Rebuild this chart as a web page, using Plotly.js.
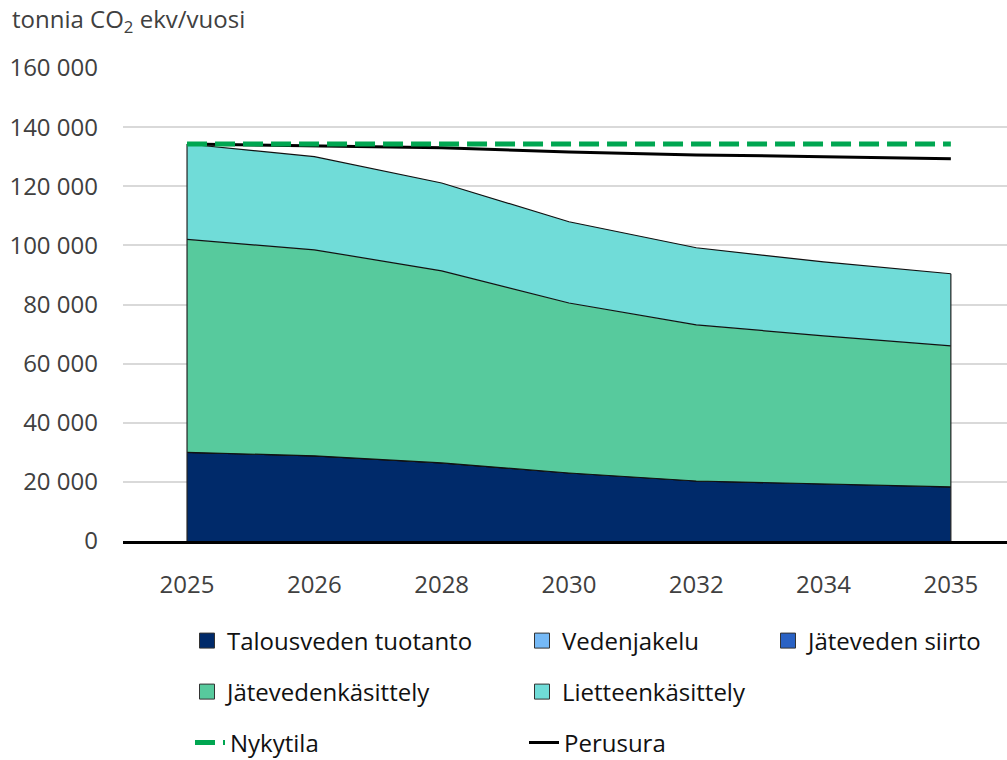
<!DOCTYPE html>
<html>
<head>
<meta charset="utf-8">
<script src="https://cdn.plot.ly/plotly-3.0.1.min.js"></script>
<style>html,body{margin:0;padding:0;background:#fff;}#chart{width:1007px;height:760px;}</style>
</head>
<body>
<div id="chart"></div>
<script>
const years = ["2025", "2026", "2028", "2030", "2032", "2034", "2035"];
const talousveden = [30000, 28800, 26400, 23000, 20300, 19300, 18300];
const vedenjakelu = [0, 0, 0, 0, 0, 0, 0];
const jatevedenSiirto = [0, 0, 0, 0, 0, 0, 0];
const jatevedenkasittely = [72000, 69700, 65000, 57500, 52800, 50100, 47700];
const lietteenkasittely = [32300, 31500, 29700, 27500, 26100, 25000, 24400];
const nykytila = [134300, 134300, 134300, 134300, 134300, 134300, 134300];
const perusura = [134300, 133700, 133000, 131600, 130600, 130000, 129300];
const yTicks = [0, 20000, 40000, 60000, 80000, 100000, 120000, 140000, 160000];

const names = ["Talousveden tuotanto", "Vedenjakelu", "Jäteveden siirto", "Jätevedenkäsittely", "Lietteenkäsittely"];
const series = [talousveden, vedenjakelu, jatevedenSiirto, jatevedenkasittely, lietteenkasittely];
const colors = ["#002A6A", "#75B9F6", "#2A62C4", "#57CA9D", "#70DCD8"];
const legendOf = ["legend", "legend", "legend3", "legend2", "legend2"];

const traces = [];
series.forEach((s, i) => {
  traces.push({
    x: years, y: s, type: "scatter", mode: "lines", stackgroup: "one",
    name: names[i], fillcolor: colors[i],
    line: {color: "#111", width: 1.2}, showlegend: false, hoverinfo: "x+y+name"
  });
});
// side edges of the stacked area, derived from the data
const totals = years.map((_, j) => series.reduce((a, s) => a + s[j], 0));
const last = years.length - 1;
traces.push({
  x: [years[0], years[0], null, years[last], years[last]],
  y: [0, totals[0], null, 0, totals[last]],
  type: "scatter", mode: "lines", line: {color: "#222", width: 1.2},
  showlegend: false, hoverinfo: "skip"
});
// legend entries (squares)
series.forEach((s, i) => {
  traces.push({
    x: [null], y: [null], type: "scatter", mode: "markers", name: names[i],
    marker: {symbol: "square", size: 15, color: colors[i], line: {color: "#333", width: 1}},
    legend: legendOf[i], showlegend: true
  });
});
traces.push({
  x: years, y: perusura, type: "scatter", mode: "lines", name: "Perusura",
  line: {color: "#000", width: 3}, legend: "legend4"
});
traces.push({
  x: years, y: nykytila, type: "scatter", mode: "lines", name: "Nykytila",
  line: {color: "#00A651", width: 5, dash: "20px,8px"}, legend: "legend4"
});

const legFont = {family: "Open Sans, sans-serif", size: 24, color: "#111"};
const baseLeg = {orientation: "h", xref: "container", yref: "container", xanchor: "left", yanchor: "middle",
  font: legFont, bgcolor: "rgba(0,0,0,0)", entrywidthmode: "pixels", entrywidth: 290, traceorder: "normal"};

const layout = {
  width: 1007, height: 760,
  margin: {l: 123, r: 0, t: 68, b: 219},
  paper_bgcolor: "#fff", plot_bgcolor: "#fff",
  separators: ", ",
  font: {family: "Open Sans, sans-serif", size: 24, color: "#404040"},
  xaxis: {type: "category", range: [-0.503, 6.441], showgrid: false, zeroline: false,
    showline: true, linecolor: "#000", linewidth: 3, ticks: "", ticklabelstandoff: 20,
    tickfont: {size: 24, color: "#404040"}, fixedrange: true},
  yaxis: {range: [0, 160000], tickvals: yTicks,
    tickformat: ",d", showgrid: true, gridcolor: "#d9d9d9", gridwidth: 2, zeroline: false,
    showline: false, ticks: "", ticklabelstandoff: 24, tickfont: {size: 24, color: "#404040"}, fixedrange: true},
  showlegend: true,
  legend: Object.assign({}, baseLeg, {x: 187/1007, y: 1 - 641/760}),
  legend2: Object.assign({}, baseLeg, {x: 187/1007, y: 1 - 692/760}),
  legend3: Object.assign({}, baseLeg, {x: 768/1007, y: 1 - 641/760}),
  legend4: Object.assign({}, baseLeg, {x: 190/1007, y: 1 - 743/760, traceorder: "reversed", entrywidth: 289}),
  annotations: [{
    text: "tonnia CO<sub>2</sub> ekv/vuosi", xref: "paper", yref: "paper",
    x: -113/884, y: 1 + 48/473, xanchor: "left", yanchor: "middle", showarrow: false,
    font: {size: 24, color: "#404040"}
  }]
};

Plotly.newPlot("chart", traces, layout, {displayModeBar: false, staticPlot: true});
</script>
</body>
</html>
